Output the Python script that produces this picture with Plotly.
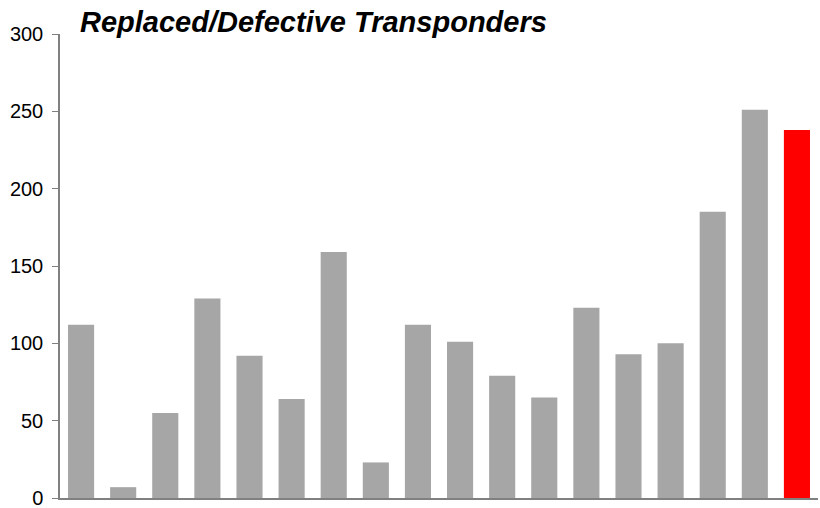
import plotly.graph_objects as go

categories = [f"P{i}" for i in range(1, 19)]
values = [112, 7, 55, 129, 92, 64, 159, 23, 112, 101, 79, 65, 123, 93, 100, 185, 251, 238]
colors = ["#a6a6a6"] * 17 + ["#ff0000"]
y_ticks = [0, 50, 100, 150, 200, 250, 300]

W, H = 820, 508

fig = go.Figure(go.Bar(x=categories, y=values, marker=dict(color=colors, line=dict(width=0))))

fig.update_layout(
    width=W, height=H,
    margin=dict(l=60, r=W - 818, t=34, b=H - 498, autoexpand=False),
    paper_bgcolor="white", plot_bgcolor="white",
    bargap=0.38,
    showlegend=False,
    title=dict(text="<b><i>Replaced/Defective Transponders</i></b>",
               x=80 / W, xanchor="left", y=1 - 22 / H, yanchor="middle",
               font=dict(family="Liberation Sans, Arial", size=29, color="black")),
    font=dict(family="Liberation Sans, Arial", size=20, color="black"),
)
fig.update_xaxes(showticklabels=False, showline=True, linecolor="#808080", linewidth=1.5,
                 ticks="", showgrid=False, zeroline=False, automargin=False)
fig.update_yaxes(range=[0, 300], tickvals=y_ticks, showline=True, linecolor="#808080", linewidth=1.5,
                 ticks="outside", ticklen=6, tickcolor="#808080", tickwidth=1, automargin=False,
                 ticklabelstandoff=5, ticklabeloverflow="allow",
                 showgrid=False, zeroline=False, tickfont=dict(size=20, color="black"))

fig.write_html("out.html", config={"displayModeBar": False},
               post_script="document.body.style.margin='0';")
